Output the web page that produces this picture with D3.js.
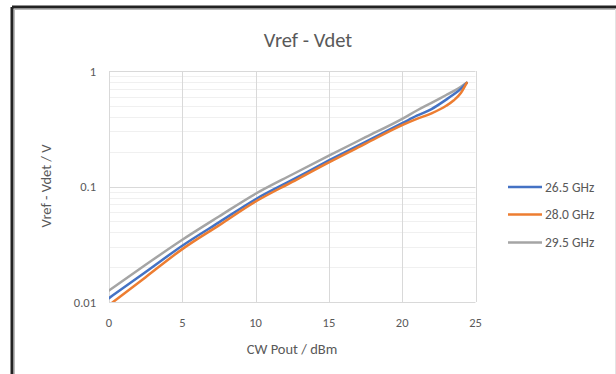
<!DOCTYPE html>
<html><head><meta charset="utf-8">
<script src="https://cdn.jsdelivr.net/npm/d3@7"></script>
<style>body{margin:0;background:#fff;}svg{display:block;font-family:Carlito,Lato,"Open Sans",sans-serif;}</style>
</head><body><svg id="c" width="616" height="374"></svg>
<script>
const xs = [0, 2.5, 5, 7.5, 10, 12.5, 15, 17.5, 20, 21, 22, 23, 23.5, 24, 24.4];
const s265 = [0.0108, 0.0182, 0.0307, 0.0489, 0.0776, 0.114, 0.168, 0.244, 0.353, 0.41, 0.468, 0.565, 0.625, 0.70, 0.79];
const s280 = [0.0094, 0.0164, 0.0287, 0.0461, 0.0741, 0.1096, 0.162, 0.235, 0.34, 0.385, 0.43, 0.50, 0.555, 0.645, 0.79];
const s295 = [0.0126, 0.021, 0.0346, 0.055, 0.0865, 0.127, 0.185, 0.267, 0.385, 0.455, 0.53, 0.62, 0.67, 0.73, 0.79];
const seriesNames = ["26.5 GHz", "28.0 GHz", "29.5 GHz"];
const seriesColors = ["#4472c4", "#ed7d31", "#a5a5a5"];
const xTicks = [0, 5, 10, 15, 20, 25];
const yTicks = [0.01, 0.1, 1];
const yTickLabels = ["0.01", "0.1", "1"];

const svg = d3.select("#c");
const txt = "#595959";
// frame
svg.append("line").attr("x1",12).attr("y1",7).attr("x2",616).attr("y2",7).attr("stroke","#222").attr("stroke-width",3);
svg.append("line").attr("x1",12).attr("y1",7).attr("x2",12).attr("y2",374).attr("stroke","#222").attr("stroke-width",3);
svg.append("line").attr("x1",14).attr("y1",9.5).attr("x2",616).attr("y2",9.5).attr("stroke","#bbb").attr("stroke-width",1);
svg.append("line").attr("x1",14.5).attr("y1",9).attr("x2",14.5).attr("y2",374).attr("stroke","#bbb").attr("stroke-width",1);
svg.append("line").attr("x1",615.5).attr("y1",9).attr("x2",615.5).attr("y2",374).attr("stroke","#e4e4e4").attr("stroke-width",1);

const x = d3.scaleLinear().domain([0,25]).range([109,475.5]);
const y = d3.scaleLog().domain([0.01,1]).range([302,71]);

// minor grid
const minor = [];
[0.01,0.1].forEach(d=>{for(let k=2;k<=9;k++) minor.push(d*k);});
svg.append("g").selectAll("line").data(minor).join("line")
  .attr("x1",x(0)).attr("x2",x(25)).attr("y1",d=>Math.round(y(d))+0.5).attr("y2",d=>Math.round(y(d))+0.5)
  .attr("stroke","#f0f0f0").attr("stroke-width",1);
// major grid
svg.append("g").selectAll("line").data(yTicks).join("line")
  .attr("x1",x(0)).attr("x2",x(25)).attr("y1",d=>Math.round(y(d))+0.5).attr("y2",d=>Math.round(y(d))+0.5)
  .attr("stroke","#d9d9d9").attr("stroke-width",1);
svg.append("g").selectAll("line").data(xTicks).join("line")
  .attr("x1",d=>Math.round(x(d))+0.5).attr("x2",d=>Math.round(x(d))+0.5).attr("y1",y(1)).attr("y2",y(0.01))
  .attr("stroke","#d9d9d9").attr("stroke-width",1);

// axes labels
svg.append("g").selectAll("text").data(yTicks).join("text")
  .attr("x",96).attr("y",d=>y(d)+4.5).attr("text-anchor","end").attr("font-size",12.5).attr("fill",txt)
  .text((d,i)=>yTickLabels[i]);
svg.append("g").selectAll("text").data(xTicks).join("text")
  .attr("x",d=>x(d)).attr("y",327).attr("text-anchor","middle").attr("font-size",12.5).attr("fill",txt)
  .text(d=>d);

svg.append("text").attr("x",308).attr("y",47).attr("text-anchor","middle").attr("font-size",20.5).attr("fill",txt).text("Vref - Vdet");
svg.append("text").attr("x",292).attr("y",354).attr("text-anchor","middle").attr("font-size",14.5).attr("fill",txt).text("CW Pout / dBm");
svg.append("text").attr("transform","translate(51,186) rotate(-90)").attr("text-anchor","middle").attr("font-size",14.5).attr("fill",txt).text("Vref - Vdet / V");

// clip
svg.append("clipPath").attr("id","pc").append("rect").attr("x",x(0)).attr("y",y(1)).attr("width",x(25)-x(0)).attr("height",y(0.01)-y(1));
const line = d3.line().x(d=>x(d[0])).y(d=>y(d[1])).curve(d3.curveMonotoneX);
const all = [s265, s280, s295];
const order = [2,0,1];
const g = svg.append("g").attr("clip-path","url(#pc)");
order.forEach(i=>{
  g.append("path").attr("d", line(xs.map((v,j)=>[v, all[i][j]]))).attr("fill","none")
   .attr("stroke",seriesColors[i]).attr("stroke-width",2.5).attr("stroke-linecap","round");
});

// legend
const ly = [187, 214.5, 242.5];
seriesNames.forEach((n,i)=>{
  svg.append("line").attr("x1",508).attr("x2",542).attr("y1",ly[i]).attr("y2",ly[i]).attr("stroke",seriesColors[i]).attr("stroke-width",2.5);
  svg.append("text").attr("x",545).attr("y",ly[i]+4.5).attr("font-size",13.5).attr("fill",txt).text(n);
});
</script></body></html>
